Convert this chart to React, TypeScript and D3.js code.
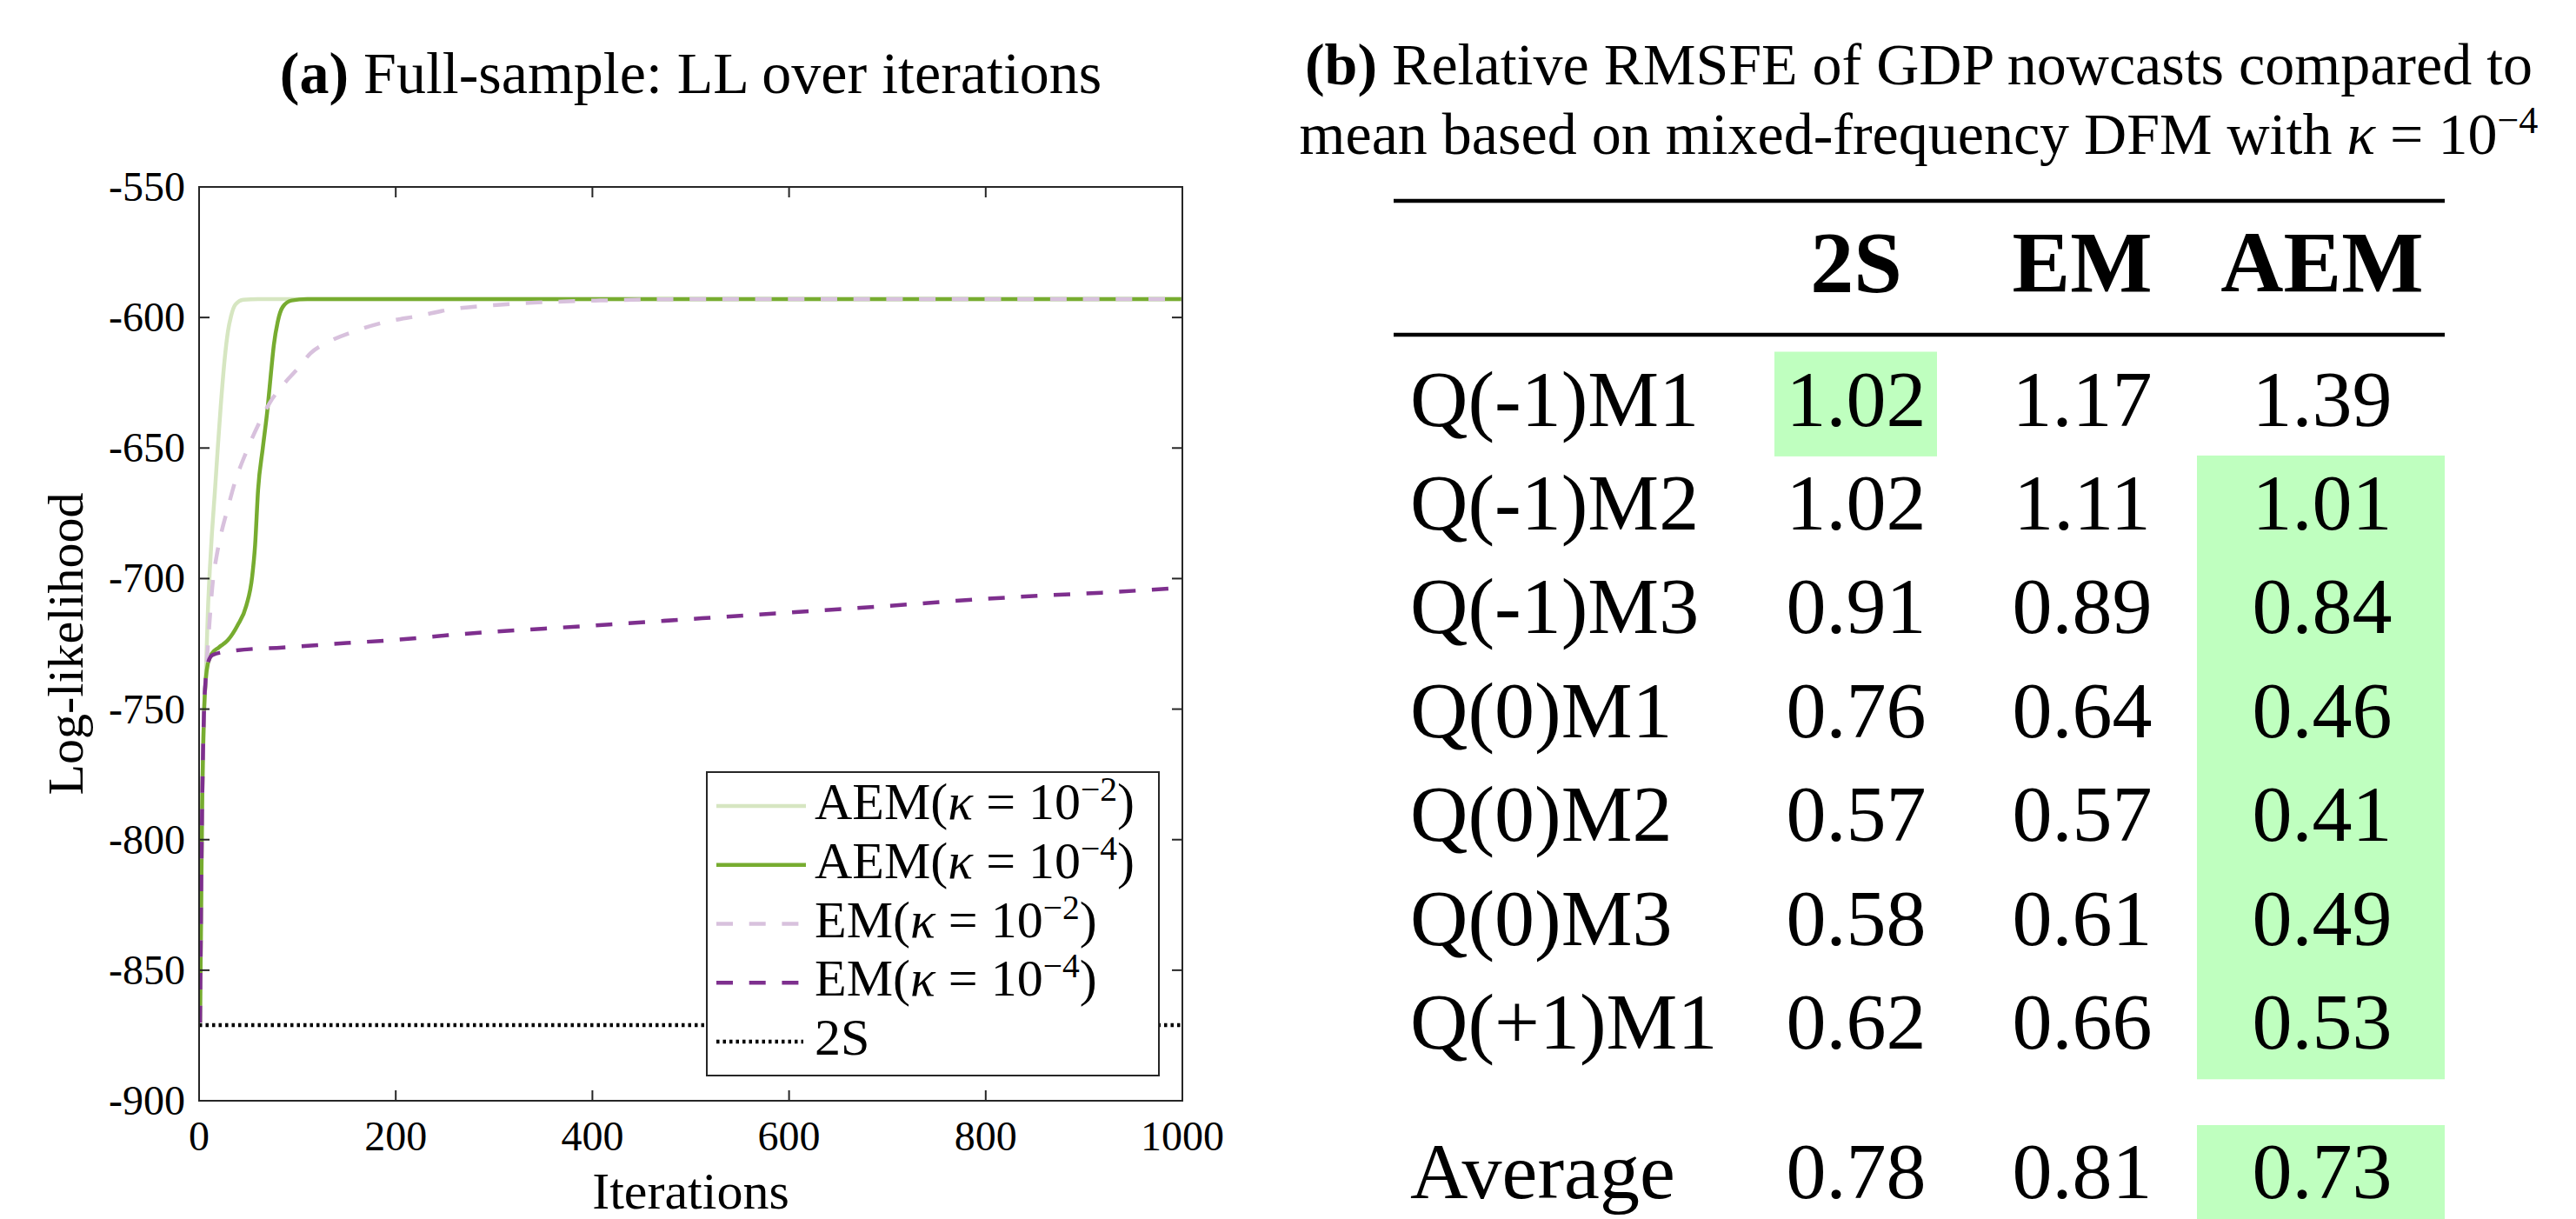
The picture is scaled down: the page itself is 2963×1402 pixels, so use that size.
import React from "react";
import * as d3 from "d3";

// ---- panel (a): log-likelihood over iterations ----
const iterTicks = [0, 200, 400, 600, 800, 1000];
const llTicks = [-900, -850, -800, -750, -700, -650, -600, -550];

const aemK2Iter = [1, 3, 5, 7, 9, 11, 13, 16, 19, 22, 26, 29.5, 32.5, 37, 45, 60, 1000];
const aemK2LL = [-870, -790, -752, -735, -712, -696, -683, -667, -650, -634, -616, -605, -599.5, -595, -593.2, -593, -593];

const aemK4Iter = [1, 3, 5, 7, 9, 13, 20, 29, 39, 48, 54, 57, 60, 64.8, 69.6, 73, 76, 80, 85, 94, 110, 1000];
const aemK4LL = [-870, -790, -752, -738, -732.5, -728.7, -726.4, -723.7, -718, -710.4, -699.2, -687, -666, -650, -635, -621.7, -610.6, -601.6, -596, -593.5, -593, -593];

const emK2Iter = [1, 3, 5, 7, 10, 14, 18, 22, 29.5, 36, 48, 64, 72, 85, 101, 113, 132, 161, 191, 223, 256, 306, 353, 408, 487, 1000];
const emK2LL = [-870, -790, -752, -737, -720, -701, -691, -683.5, -672.6, -663.7, -651.5, -638.2, -632.6, -626, -619.3, -613.8, -609.3, -604.9, -601.6, -599.4, -596.9, -595.1, -594.1, -593.5, -593, -593];

const emK4Iter = [1, 3, 4.7, 6.8, 8.8, 14, 38, 85, 150, 203, 253, 400, 500, 600, 700, 794, 858, 918, 1000];
const emK4LL = [-870, -790, -755, -738, -732.5, -729.2, -727.5, -726.4, -724.7, -723.4, -721.7, -718, -715.5, -713, -710.5, -707.9, -706.5, -705.4, -703.5];

const twoStepIter = [0, 1000];
const twoStepLL = [-871, -871];

const seriesNames = ["AEM", "AEM", "EM", "EM", "2S"];
const seriesKappa = ["−2", "−4", "−2", "−4", ""];

// ---- panel (b): relative RMSFE table ----
const tableRows = ["Q(-1)M1", "Q(-1)M2", "Q(-1)M3", "Q(0)M1", "Q(0)M2", "Q(0)M3", "Q(+1)M1"];
const tableCols = ["2S", "EM", "AEM"];
const rmsfe2S = [1.02, 1.02, 0.91, 0.76, 0.57, 0.58, 0.62];
const rmsfeEM = [1.17, 1.11, 0.89, 0.64, 0.57, 0.61, 0.66];
const rmsfeAEM = [1.39, 1.01, 0.84, 0.46, 0.41, 0.49, 0.53];
const averages = [0.78, 0.81, 0.73];

const W = 2963;
const H = 1402;
const axisColor = "#262626";
const font = "'Liberation Serif', 'Times New Roman', serif";

const plot = { left: 229, right: 1360, top: 215, bottom: 1266 };

const styles = [
  { color: "#d6e6c1", dash: null },
  { color: "#77ac30", dash: null },
  { color: "#d8c1dd", dash: "19 18.7" },
  { color: "#7e2f8e", dash: "19 18.7" },
  { color: "#000000", dash: "3.5 4" },
];

const Kappa = ({ exp }: { exp: string }) => (
  <>
    (<tspan fontStyle="italic">κ</tspan> = 10
    <tspan fontSize="0.66em" dy={-21}>{exp}</tspan>
    <tspan dy={21}>)</tspan>
  </>
);

const App = () => {
  const x = d3.scaleLinear().domain([0, 1000]).range([plot.left, plot.right]);
  const y = d3.scaleLinear().domain([-900, -550]).range([plot.bottom, plot.top]);

  const line = d3
    .line<[number, number]>()
    .x((d) => x(d[0]))
    .y((d) => y(d[1]))
    .curve(d3.curveMonotoneX);

  const series = [
    d3.zip(aemK2Iter, aemK2LL),
    d3.zip(aemK4Iter, aemK4LL),
    d3.zip(emK2Iter, emK2LL),
    d3.zip(emK4Iter, emK4LL),
    d3.zip(twoStepIter, twoStepLL),
  ] as [number, number][][];

  // legend
  const legend = { x: 813, y: 888, w: 520, h: 349 };
  const legendY = d3.scaleLinear().domain([0, 4]).range([927, 1198]);

  // table layout
  const colCenter = [2135, 2395, 2671];
  const colLeft = [2041, 2262, 2527];
  const colRight = [2228, 2527, 2812];
  const rowTop = d3.scaleLinear().domain([0, 1]).range([405, 524.4]);
  const rowH = rowTop(1) - rowTop(0);
  const avgTop = 1294;
  const values = [rmsfe2S, rmsfeEM, rmsfeAEM];
  const avgBest = d3.minIndex(averages);

  return (
    <svg
      width={W}
      height={H}
      style={{ position: "absolute", left: 0, top: 0, background: "#fff" }}
      fontFamily={font}
    >
      <rect width={W} height={H} fill="#fff" />

      {/* ---------- panel (a) ---------- */}
      <text x={(plot.left + plot.right) / 2} y={107} fontSize={68} textAnchor="middle">
        <tspan fontWeight="bold">(a)</tspan> Full-sample: LL over iterations
      </text>

      <defs>
        <clipPath id="plotClip">
          <rect x={plot.left} y={plot.top} width={plot.right - plot.left} height={plot.bottom - plot.top} />
        </clipPath>
      </defs>

      <g clipPath="url(#plotClip)">
        {series.map((pts, i) => (
          <path
            key={i}
            d={line(pts) || ""}
            fill="none"
            stroke={styles[i].color}
            strokeWidth={4.5}
            strokeDasharray={styles[i].dash || undefined}
          />
        ))}
      </g>

      {/* axes box with mirrored inward ticks */}
      <rect
        x={plot.left}
        y={plot.top}
        width={plot.right - plot.left}
        height={plot.bottom - plot.top}
        fill="none"
        stroke={axisColor}
        strokeWidth={2}
      />
      {iterTicks.map((t) => (
        <g key={"xt" + t}>
          <line x1={x(t)} x2={x(t)} y1={plot.bottom} y2={plot.bottom - 12} stroke={axisColor} strokeWidth={2} />
          <line x1={x(t)} x2={x(t)} y1={plot.top} y2={plot.top + 12} stroke={axisColor} strokeWidth={2} />
          <text x={x(t)} y={1323} fontSize={48} textAnchor="middle" fill="#000">
            {t}
          </text>
        </g>
      ))}
      {llTicks.map((t) => (
        <g key={"yt" + t}>
          <line x1={plot.left} x2={plot.left + 12} y1={y(t)} y2={y(t)} stroke={axisColor} strokeWidth={2} />
          <line x1={plot.right} x2={plot.right - 12} y1={y(t)} y2={y(t)} stroke={axisColor} strokeWidth={2} />
          <text x={213} y={y(t) + 16} fontSize={48} textAnchor="end" fill="#000">
            {t}
          </text>
        </g>
      ))}

      <text x={(plot.left + plot.right) / 2} y={1390} fontSize={60} textAnchor="middle">
        Iterations
      </text>
      <text
        transform={`translate(95, ${(plot.top + plot.bottom) / 2}) rotate(-90)`}
        fontSize={58}
        textAnchor="middle"
      >
        Log-likelihood
      </text>

      {/* legend */}
      <rect x={legend.x} y={legend.y} width={legend.w} height={legend.h} fill="#fff" stroke={axisColor} strokeWidth={2} />
      {seriesNames.map((name, i) => (
        <g key={"lg" + i}>
          <line
            x1={824}
            x2={i === 4 ? 924 : 927}
            y1={legendY(i)}
            y2={legendY(i)}
            stroke={styles[i].color}
            strokeWidth={4.5}
            strokeDasharray={styles[i].dash || undefined}
          />
          <text x={937} y={legendY(i) + 15} fontSize={60}>
            {name}
            {seriesKappa[i] ? <Kappa exp={seriesKappa[i]} /> : null}
          </text>
        </g>
      ))}

      {/* ---------- panel (b) ---------- */}
      <text x={2207} y={97} fontSize={68} textAnchor="middle">
        <tspan fontWeight="bold">(b)</tspan> Relative RMSFE of GDP nowcasts compared to
      </text>
      <text x={2207} y={177} fontSize={68} textAnchor="middle">
        mean based on mixed-frequency DFM with <tspan fontStyle="italic">κ</tspan> = 10
        <tspan fontSize="0.65em" dy={-24}>−4</tspan>
      </text>

      <line x1={1603} x2={2812} y1={231} y2={231} stroke="#000" strokeWidth={4.5} />
      <line x1={1603} x2={2812} y1={385} y2={385} stroke="#000" strokeWidth={4.5} />

      {tableCols.map((c, j) => (
        <text key={"h" + c} x={colCenter[j]} y={335} fontSize={100} fontWeight="bold" textAnchor="middle">
          {c}
        </text>
      ))}

      {tableRows.map((r, i) => {
        const rowVals = values.map((v) => v[i]);
        const best = d3.minIndex(rowVals);
        return (
          <g key={"r" + r}>
            <rect
              x={colLeft[best]}
              y={rowTop(i) - 0.5}
              width={colRight[best] - colLeft[best]}
              height={rowH + 1}
              fill="#bfffbf"
            />
            <text x={1622} y={rowTop(i) + 84.5} fontSize={92}>
              {r}
            </text>
            {rowVals.map((v, j) => (
              <text key={j} x={colCenter[j]} y={rowTop(i) + 84.5} fontSize={92} textAnchor="middle">
                {v.toFixed(2)}
              </text>
            ))}
          </g>
        );
      })}

      <rect
        x={colLeft[avgBest]}
        y={avgTop}
        width={colRight[avgBest] - colLeft[avgBest]}
        height={rowH}
        fill="#bfffbf"
      />
      <text x={1622} y={avgTop + 84} fontSize={92}>
        Average
      </text>
      {averages.map((v, j) => (
        <text key={"a" + j} x={colCenter[j]} y={avgTop + 84} fontSize={92} textAnchor="middle">
          {v.toFixed(2)}
        </text>
      ))}
    </svg>
  );
};

export default App;
